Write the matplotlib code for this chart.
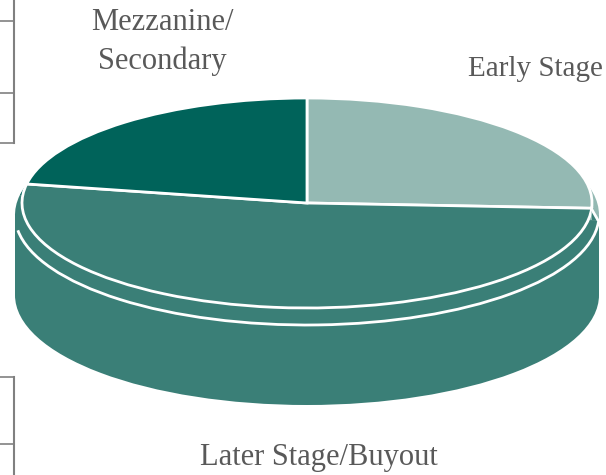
import matplotlib
matplotlib.use("Agg")
import matplotlib.pyplot as plt
from matplotlib.patches import Arc, Ellipse, Polygon, Rectangle

W, H = 606, 475

labels = ["Early Stage", "Later Stage/Buyout", "Mezzanine/\nSecondary"]
shares = [25.8, 52.1, 22.1]
colors = ["#94b9b3", "#3a7f77", "#00635a"]
label_pos = [(535, 69), (319, 458), (162, 42)]
label_size = [21, 22, 22]


def pie_axes(cx, cy, rx, ry, edge):
    # axes where the unit circle of the pie lands on the wanted ellipse
    ax = fig.add_axes([(cx - rx) / W, 1 - (cy + ry) / H, 2 * rx / W, 2 * ry / H])
    ax.pie(shares, colors=colors, startangle=90, counterclock=False, radius=1,
           wedgeprops={"edgecolor": edge, "linewidth": 2 if edge != "none" else 0,
                       "clip_on": False})
    ax.set_aspect("auto")
    ax.set_xlim(-1, 1)
    ax.set_ylim(-1, 1)
    ax.axis("off")
    return ax


fig = plt.figure(figsize=(W / 100, H / 100), dpi=100)

base = fig.add_axes([0, 0, 1, 1])
base.set_xlim(0, W)
base.set_ylim(H, 0)
base.axis("off")

# bits of the table next to the chart
grey = "#808080"
base.plot([14, 14], [0, 143], color=grey, lw=1.5)
base.plot([14, 14], [377, 475], color=grey, lw=1.5)
for y in [21, 93, 143, 377, 444]:
    base.plot([0, 14], [y, y], color=grey, lw=1.2)

# side of the cylinder
base.add_patch(Ellipse((307, 295), 584, 220, color=colors[1], lw=0))
base.add_patch(Rectangle((15, 215), 584, 80, color=colors[1], lw=0))

rim = pie_axes(307, 215, 292, 110, "none")
rim.add_patch(Arc((0, 0), 2, 2, theta1=188, theta2=356.4, color="white", lw=2, clip_on=False))
top = pie_axes(307, 203, 285, 105, "white")

over = fig.add_axes([0, 0, 1, 1])
over.set_xlim(0, W)
over.set_ylim(H, 0)
over.axis("off")
over.add_patch(Polygon([(591.5, 209), (598, 220), (592, 220)], color=colors[1], lw=0))
over.plot([591, 599], [208, 222], color="white", lw=2)

for text, (x, y), size in zip(labels, label_pos, label_size):
    over.text(x, y, text, ha="center", va="center", family="Liberation Serif",
              fontsize=size, color="#595959", linespacing=1.45)

fig.savefig("out.png", dpi=100)
